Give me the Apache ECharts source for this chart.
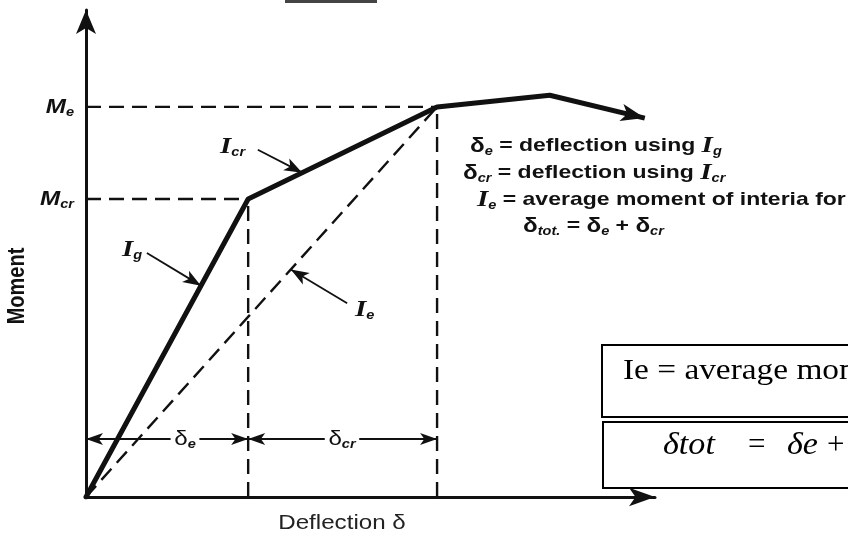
<!DOCTYPE html>
<html>
<head>
<meta charset="utf-8">
<script src="https://cdn.jsdelivr.net/npm/echarts@6/dist/echarts.min.js"></script>
<style>
  html, body { margin: 0; padding: 0; background: #fff; }
  #chart { width: 848px; height: 537px; }
</style>
</head>
<body>
<div id="chart"></div>
<script>
// curve points: origin, cracking (Mcr), service (Me), beyond, arrow tip
const deflection = [0, 28.5, 61.7, 81.5, 98.2]
const moment = [0, 61.2, 80.1, 82.5, 77.8]

// height of the δe / δcr dimension arrows
const dimLevel = 11.9

// pointer arrows to the Ig, Icr, Ie labels: [fromX, fromY, toX, toY]
const pointerIg = [10.7, 50.1, 20.2, 43.4]
const pointerIcr = [30.2, 71.3, 38.0, 66.6]
const pointerIe = [45.9, 39.8, 36.0, 46.7]

const dCr = deflection[1], mCr = moment[1]
const dE = deflection[2], mE = moment[2]

const sans = "Liberation Sans"
const serif = "Liberation Serif"
const ink = "#111"

const chart = echarts.init(document.getElementById("chart"))

// dashed guide line
function guide(a, b) {
  return {
    type: "line",
    data: [a, b],
    symbol: "none",
    silent: true,
    z: 2,
    lineStyle: { color: ink, width: 2.4, type: [15, 8] },
  }
}

// arrow line drawn with markLine (tip sits on the end point)
function arrow(from, to, size, both) {
  const tip = { symbol: "arrow", symbolSize: size }
  return [
    Object.assign({ coord: from }, both ? tip : { symbol: "none" }),
    Object.assign({ coord: to }, tip),
  ]
}

const rich = {
  d: { fontFamily: sans, fontWeight: "bold", fontSize: 20, fill: ink, lineHeight: 24 },
  t: { fontFamily: sans, fontWeight: "bold", fontSize: 19, fill: ink, lineHeight: 24 },
  I: { fontFamily: serif, fontStyle: "italic", fontWeight: "bold", fontSize: 24, fill: ink, lineHeight: 24 },
  M: { fontFamily: sans, fontStyle: "italic", fontWeight: "bold", fontSize: 20, fill: ink, lineHeight: 24 },
  s: { fontFamily: sans, fontStyle: "italic", fontWeight: "bold", fontSize: 12, fill: ink, lineHeight: 12, verticalAlign: "bottom" },
  n: { fontFamily: sans, fontSize: 20, fill: ink, lineHeight: 24 },
}

function label(x, y, text, align, boxed) {
  const style = { text: text, rich: rich, align: align || "left", verticalAlign: "middle" }
  if (boxed) {
    style.backgroundColor = "#fff"
    style.padding = [0, 3]
  }
  return { type: "text", x: x, y: y, scaleX: 1.21, z: 10, style: style }
}

const option = {
  animation: false,
  grid: { left: 86, right: 193, top: 10, bottom: 40 },
  xAxis: {
    type: "value",
    min: 0,
    max: 100,
    axisLine: {
      onZero: false,
      lineStyle: { color: ink, width: 3 },
      symbol: ["none", "arrow"],
      symbolSize: [14, 26],
    },
    axisTick: { show: false },
    axisLabel: { show: false },
    splitLine: { show: false },
  },
  yAxis: {
    type: "value",
    min: 0,
    max: 100,
    axisLine: {
      onZero: false,
      lineStyle: { color: ink, width: 3 },
      symbol: ["none", "arrow"],
      symbolSize: [15, 24],
    },
    axisTick: { show: false },
    axisLabel: { show: false },
    splitLine: { show: false },
  },
  series: [
    guide([0, mE], [dE, mE]),
    guide([0, mCr], [dCr, mCr]),
    guide([dCr, 0], [dCr, mCr]),
    guide([dE, 0], [dE, mE]),
    guide([0, 0], [dE, mE]),
    {
      // moment-deflection curve
      type: "line",
      data: deflection.slice(0, 4).map((d, i) => [d, moment[i]]),
      symbol: "none",
      silent: true,
      z: 5,
      lineStyle: { color: ink, width: 5, cap: "round", join: "round" },
      markLine: {
        silent: true,
        animation: false,
        label: { show: false },
        lineStyle: { color: ink, width: 5, type: "solid" },
        data: [arrow([deflection[3], moment[3]], [deflection[4], moment[4]], [13, 24])],
      },
    },
    {
      // pointers and dimension arrows
      type: "line",
      data: [],
      symbol: "none",
      silent: true,
      z: 6,
      markLine: {
        silent: true,
        animation: false,
        label: { show: false },
        lineStyle: { color: ink, width: 1.8, type: "solid" },
        data: [
          arrow(pointerIg.slice(0, 2), pointerIg.slice(2), [10, 18]),
          arrow(pointerIcr.slice(0, 2), pointerIcr.slice(2), [10, 18]),
          arrow(pointerIe.slice(0, 2), pointerIe.slice(2), [10, 18]),
          arrow([0, dimLevel], [dCr, dimLevel], [9, 17], true),
          arrow([dCr, dimLevel], [dE, dimLevel], [9, 17], true),
        ],
      },
    },
  ],
  graphic: [
    { type: "rect", shape: { x: 285, y: 0, width: 92, height: 3 }, style: { fill: "#444" } },

    // axis names
    {
      type: "text", x: 18, y: 286, rotation: Math.PI / 2, scaleY: 1.15,
      style: { text: "Moment", fontFamily: sans, fontWeight: "bold", fontSize: 20, fill: ink, align: "center", verticalAlign: "middle" },
    },
    {
      type: "text", x: 342, y: 523, scaleX: 1.15,
      style: { text: "Deflection δ", fontFamily: sans, fontSize: 21, fill: "#222", align: "center", verticalAlign: "middle" },
    },

    // moment labels
    label(74, 107, "{M|M}{s|e}", "right"),
    label(74, 199, "{M|M}{s|cr}", "right"),

    // stiffness labels
    label(220, 147, "{I|I}{s|cr}"),
    label(122, 250, "{I|I}{s|g}"),
    label(355, 310, "{I|I}{s|e}"),

    // dimension labels
    label(185, 439, "{n|δ}{s|e}", "center", true),
    label(342, 439, "{n|δ}{s|cr}", "center", true),

    // definitions
    label(470, 146, "{d|δ}{s|e}{t| = deflection using }{I|I}{s|g}"),
    label(463, 173, "{d|δ}{s|cr}{t| = deflection using }{I|I}{s|cr}"),
    label(477, 200, "{I|I}{s|e}{t| = average moment of interia for}"),
    label(523, 226, "{d|δ}{s|tot.}{t| = }{d|δ}{s|e}{t| + }{d|δ}{s|cr}"),

    // boxes
    { type: "rect", shape: { x: 602, y: 345, width: 270, height: 72 }, style: { fill: "none", stroke: "#000", lineWidth: 2 } },
    {
      type: "text", x: 623, y: 371, scaleX: 1.15,
      style: { text: "Ie = average moment of inertia", fontFamily: serif, fontSize: 29, fill: "#000", align: "left", verticalAlign: "middle" },
    },
    { type: "rect", shape: { x: 603, y: 422, width: 270, height: 66 }, style: { fill: "none", stroke: "#000", lineWidth: 2 } },
    { type: "text", x: 663, y: 446, scaleX: 1.1, style: { text: "δtot", fontFamily: serif, fontStyle: "italic", fontSize: 31, fill: "#000", verticalAlign: "middle" } },
    { type: "text", x: 748, y: 446, style: { text: "=", fontFamily: serif, fontSize: 31, fill: "#000", verticalAlign: "middle" } },
    { type: "text", x: 787, y: 446, scaleX: 1.1, style: { text: "δe", fontFamily: serif, fontStyle: "italic", fontSize: 31, fill: "#000", verticalAlign: "middle" } },
    { type: "text", x: 827, y: 446, style: { text: "+", fontFamily: serif, fontSize: 31, fill: "#000", verticalAlign: "middle" } },
  ],
}

chart.setOption(option)
</script>
</body>
</html>
